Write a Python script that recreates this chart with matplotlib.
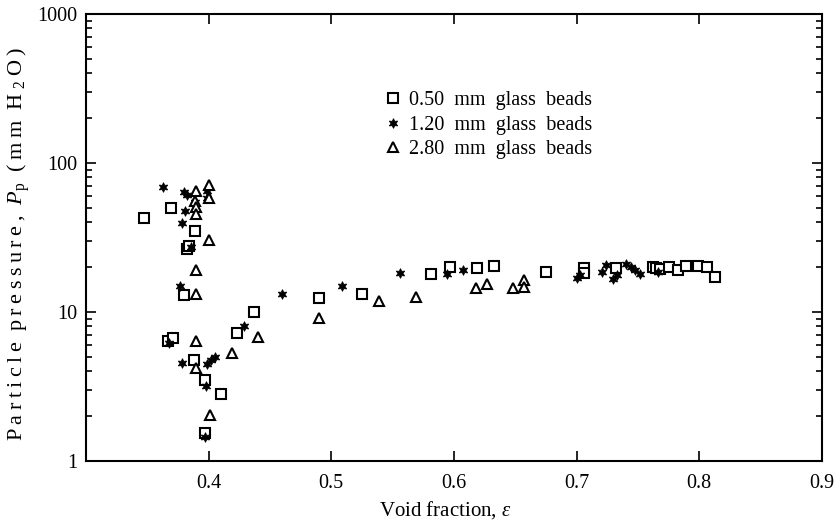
import numpy as np
import matplotlib
matplotlib.use("Agg")
import matplotlib.pyplot as plt
from matplotlib.ticker import LogLocator, NullFormatter, FixedLocator

plt.rcParams['font.family'] = ['Liberation Serif', 'DejaVu Serif']
plt.rcParams['mathtext.fontset'] = 'custom'
plt.rcParams['mathtext.rm'] = 'Liberation Serif'
plt.rcParams['mathtext.it'] = 'Liberation Serif:italic'

# 0.50 mm glass beads (squares)
eps_050 = [0.347, 0.369, 0.382, 0.384, 0.380, 0.389, 0.437, 0.367, 0.371, 0.388,
           0.397, 0.410, 0.397, 0.423, 0.490, 0.525, 0.581, 0.597, 0.619, 0.633,
           0.675, 0.706, 0.706, 0.732, 0.762, 0.765, 0.768, 0.775, 0.783, 0.789,
           0.799, 0.806, 0.813]
pp_050 = [43, 50, 26.3, 27.7, 13.0, 35, 10.0, 6.4, 6.7, 4.8,
          3.5, 2.83, 1.55, 7.2, 12.4, 13.2, 17.9, 19.9, 19.7, 20.5,
          18.5, 19.7, 18.4, 19.7, 20.1, 19.8, 19.4, 19.9, 19.2, 20.5,
          20.5, 19.9, 17.3]

# 1.20 mm glass beads (stars)
eps_120 = [0.363, 0.380, 0.382, 0.389, 0.381, 0.378, 0.386, 0.377, 0.399, 0.399,
           0.368, 0.378, 0.399, 0.402, 0.405, 0.398, 0.397, 0.429, 0.460, 0.509,
           0.556, 0.594, 0.607, 0.700, 0.703, 0.721, 0.724, 0.730, 0.733, 0.740,
           0.744, 0.748, 0.752, 0.766]
pp_120 = [69, 63.6, 61, 55, 47.9, 39.4, 27.2, 14.9, 65, 58,
          6.2, 4.57, 4.5, 4.76, 5.0, 3.19, 1.46, 8.0, 13.2, 14.9,
          18.2, 18.0, 19.1, 16.8, 17.7, 18.6, 20.7, 16.6, 17.7, 21.0,
          20.1, 19.1, 17.9, 18.6]

# 2.80 mm glass beads (triangles)
eps_280 = [0.390, 0.389, 0.390, 0.390, 0.400, 0.400, 0.400, 0.390, 0.390, 0.390,
           0.390, 0.401, 0.419, 0.440, 0.490, 0.539, 0.569, 0.618, 0.627, 0.648,
           0.657, 0.657]
pp_280 = [64.9, 55.7, 50.9, 45.5, 71.2, 58.5, 30.4, 19.1, 13.3, 6.4,
          4.19, 2.04, 5.28, 6.83, 9.16, 11.9, 12.7, 14.6, 15.3, 14.4,
          16.4, 14.8]

x_ticks = [0.4, 0.5, 0.6, 0.7, 0.8, 0.9]
x_ticklabels = ['0.4', '0.5', '0.6', '0.7', '0.8', '0.9']
y_ticks = [1, 10, 100, 1000]
y_ticklabels = ['1', '10', '100', '1000']
legend_labels = ['0.50 mm glass beads', '1.20 mm glass beads', '2.80 mm glass beads']

THIN = '\u2009'
EN = '\u2002'


def spaced(word):
    # 字间距加宽，模仿原图排版
    return THIN.join(word)


fig = plt.figure(figsize=(8.37, 5.25), dpi=100)
ax = fig.add_axes([0.1027, 0.1219, 0.8793, 0.8514])

ax.plot(eps_050, pp_050, linestyle='none', marker='s', markersize=7,
        markerfacecolor='white', markeredgecolor='black', markeredgewidth=1.5,
        label=EN.join(legend_labels[0].split()))
ax.plot(eps_120, pp_120, linestyle='none', marker=(6, 1, 0), markersize=7,
        color='black', markeredgewidth=0.6,
        label=EN.join(legend_labels[1].split()))
ax.plot(eps_280, pp_280, linestyle='none', marker='^', markersize=7.5,
        markerfacecolor='white', markeredgecolor='black', markeredgewidth=1.5,
        label=EN.join(legend_labels[2].split()))

ax.set_yscale('log')
ax.set_xlim(0.3, 0.9)
ax.set_ylim(1, 1000)

ax.xaxis.set_major_locator(FixedLocator(x_ticks))
ax.set_xticklabels(x_ticklabels)
ax.yaxis.set_major_locator(FixedLocator(y_ticks))
ax.set_yticklabels(y_ticklabels)
ax.yaxis.set_minor_locator(LogLocator(base=10, subs=np.arange(2, 10)))
ax.yaxis.set_minor_formatter(NullFormatter())

ax.tick_params(which='both', direction='in', top=True, right=True,
               labelsize=14.5, width=1.2)
ax.tick_params(which='major', length=7)
ax.tick_params(axis='x', which='major', pad=9)
ax.tick_params(axis='y', which='major', pad=6)
ax.tick_params(which='minor', length=4)
for s in ax.spines.values():
    s.set_linewidth(1.5)

ax.set_xlabel(r'Void fraction, $\mathit{\epsilon}$', fontsize=15)
ax.xaxis.set_label_coords(0.488, -0.086)

ylab = EN.join([spaced('Particle'), spaced('pressure,'), r'$P_{\rm p}$',
                spaced('(mm'), 'H' + THIN + r'$_2$' + THIN + 'O' + THIN + ')'])
ax.set_ylabel(ylab, fontsize=16)
ax.yaxis.set_label_coords(-0.073, 0.485)

ax.legend(loc='upper left', bbox_to_anchor=(0.398, 0.845), frameon=False,
          fontsize=14.5, handlelength=0.6, handletextpad=0.5, labelspacing=0.25,
          borderaxespad=0)

fig.savefig('out.png', dpi=100)
